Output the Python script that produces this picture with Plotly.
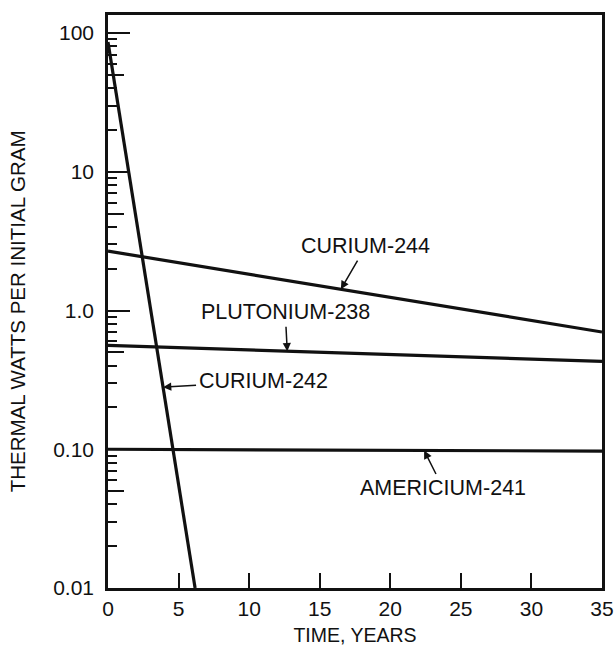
import numpy as np
import plotly.graph_objects as go

# Heat output per initial gram of isotope vs. time (log scale)
years_cm242 = [0.0, 6.17]
watts_cm242 = [86.0, 0.01]

years_cm244 = [0.0, 35.0]
watts_cm244 = [2.68, 0.70]

years_pu238 = [0.0, 35.0]
watts_pu238 = [0.56, 0.43]

years_am241 = [0.0, 35.0]
watts_am241 = [0.100, 0.097]

x_ticks = [0, 5, 10, 15, 20, 25, 30, 35]
y_ticks = [0.01, 0.1, 1.0, 10.0, 100.0]
y_ticktext = ["0.01", "0.10", "1.0", "10", "100"]

FONT = "Liberation Sans, Arial, Helvetica, sans-serif"
INK = "#111111"

decades = [0.01, 0.1, 1.0, 10.0]
minor_vals = [d * m for d in decades for m in (2, 3, 4, 6, 7, 8, 9)]
five_vals = [d * 5 for d in decades]


def on_line(xs, ys, t):
    """Value of a log-linear series at time t."""
    return float(10 ** np.interp(t, xs, np.log10(ys)))


fig = go.Figure()
line_style = dict(color=INK, width=3.2)
for xs, ys, name in [
    (years_cm242, watts_cm242, "CURIUM-242"),
    (years_cm244, watts_cm244, "CURIUM-244"),
    (years_pu238, watts_pu238, "PLUTONIUM-238"),
    (years_am241, watts_am241, "AMERICIUM-241"),
]:
    fig.add_trace(go.Scatter(x=xs, y=ys, mode="lines", line=line_style,
                             name=name, showlegend=False, cliponaxis=True))

# carrier trace for the axis holding the mid-decade (x5) ticks
fig.add_trace(go.Scatter(x=[None], y=[None], yaxis="y2", showlegend=False,
                         hoverinfo="skip"))

labels = [
    # text, series, tip time, text offset (px)
    ("CURIUM-244", (years_cm244, watts_cm244), 16.5, 25, -43),
    ("PLUTONIUM-238", (years_pu238, watts_pu238), 12.7, -2, -39),
    ("CURIUM-242", (years_cm242, watts_cm242), 3.9, 100, -6),
    ("AMERICIUM-241", (years_am241, watts_am241), 22.4, 19, 38),
]
for text, (xs, ys), t, ax, ay in labels:
    fig.add_annotation(
        x=t, y=np.log10(on_line(xs, ys, t)), xref="x", yref="y",
        text=text, showarrow=True, ax=ax, ay=ay,
        arrowhead=2, arrowsize=1.1, arrowwidth=1.5, arrowcolor=INK,
        standoff=0, startstandoff=1,
        font=dict(family=FONT, size=21.5, color=INK),
    )

# vertical axis caption
fig.add_annotation(
    text="THERMAL WATTS PER INITIAL GRAM", textangle=-90,
    xref="paper", yref="paper", x=-0.184, y=0.483,
    xanchor="center", yanchor="middle", showarrow=False,
    font=dict(size=20.5, family=FONT, color=INK),
)

log_range = [-2, 2.13]

fig.update_layout(
    width=615, height=653,
    margin=dict(l=108, r=13, t=15, b=65, autoexpand=False),
    paper_bgcolor="white", plot_bgcolor="white",
    font=dict(family=FONT, color=INK),
    xaxis=dict(
        range=[0, 35], tickvals=x_ticks, ticks="inside", ticklen=15,
        tickwidth=1.6, tickcolor=INK, showgrid=False, zeroline=False,
        showline=True, linewidth=2.5, linecolor=INK, mirror=True,
        tickfont=dict(size=21, family=FONT, color=INK),
        ticklabelstandoff=0, automargin=False,
        title=dict(text="TIME, YEARS", font=dict(size=19.5, family=FONT, color=INK),
                   standoff=10),
    ),
    yaxis=dict(
        type="log", range=log_range, tickvals=y_ticks, ticktext=y_ticktext,
        ticks="inside", ticklen=22, tickwidth=1.6, tickcolor=INK,
        minor=dict(tickvals=minor_vals, ticks="inside", ticklen=9,
                   tickwidth=1.5, tickcolor=INK, showgrid=False),
        showgrid=False, zeroline=False,
        showline=True, linewidth=2.5, linecolor=INK, mirror=True,
        tickfont=dict(size=21, family=FONT, color=INK),
        ticklabelstandoff=7, automargin=False,
    ),
    yaxis2=dict(
        type="log", range=log_range, overlaying="y", side="left", anchor="x",
        tickvals=five_vals, ticks="inside", ticklen=16, tickwidth=1.5,
        tickcolor=INK, showticklabels=False, showgrid=False, zeroline=False,
        showline=False, automargin=False,
    ),
)

fig.write_html("out.html")
